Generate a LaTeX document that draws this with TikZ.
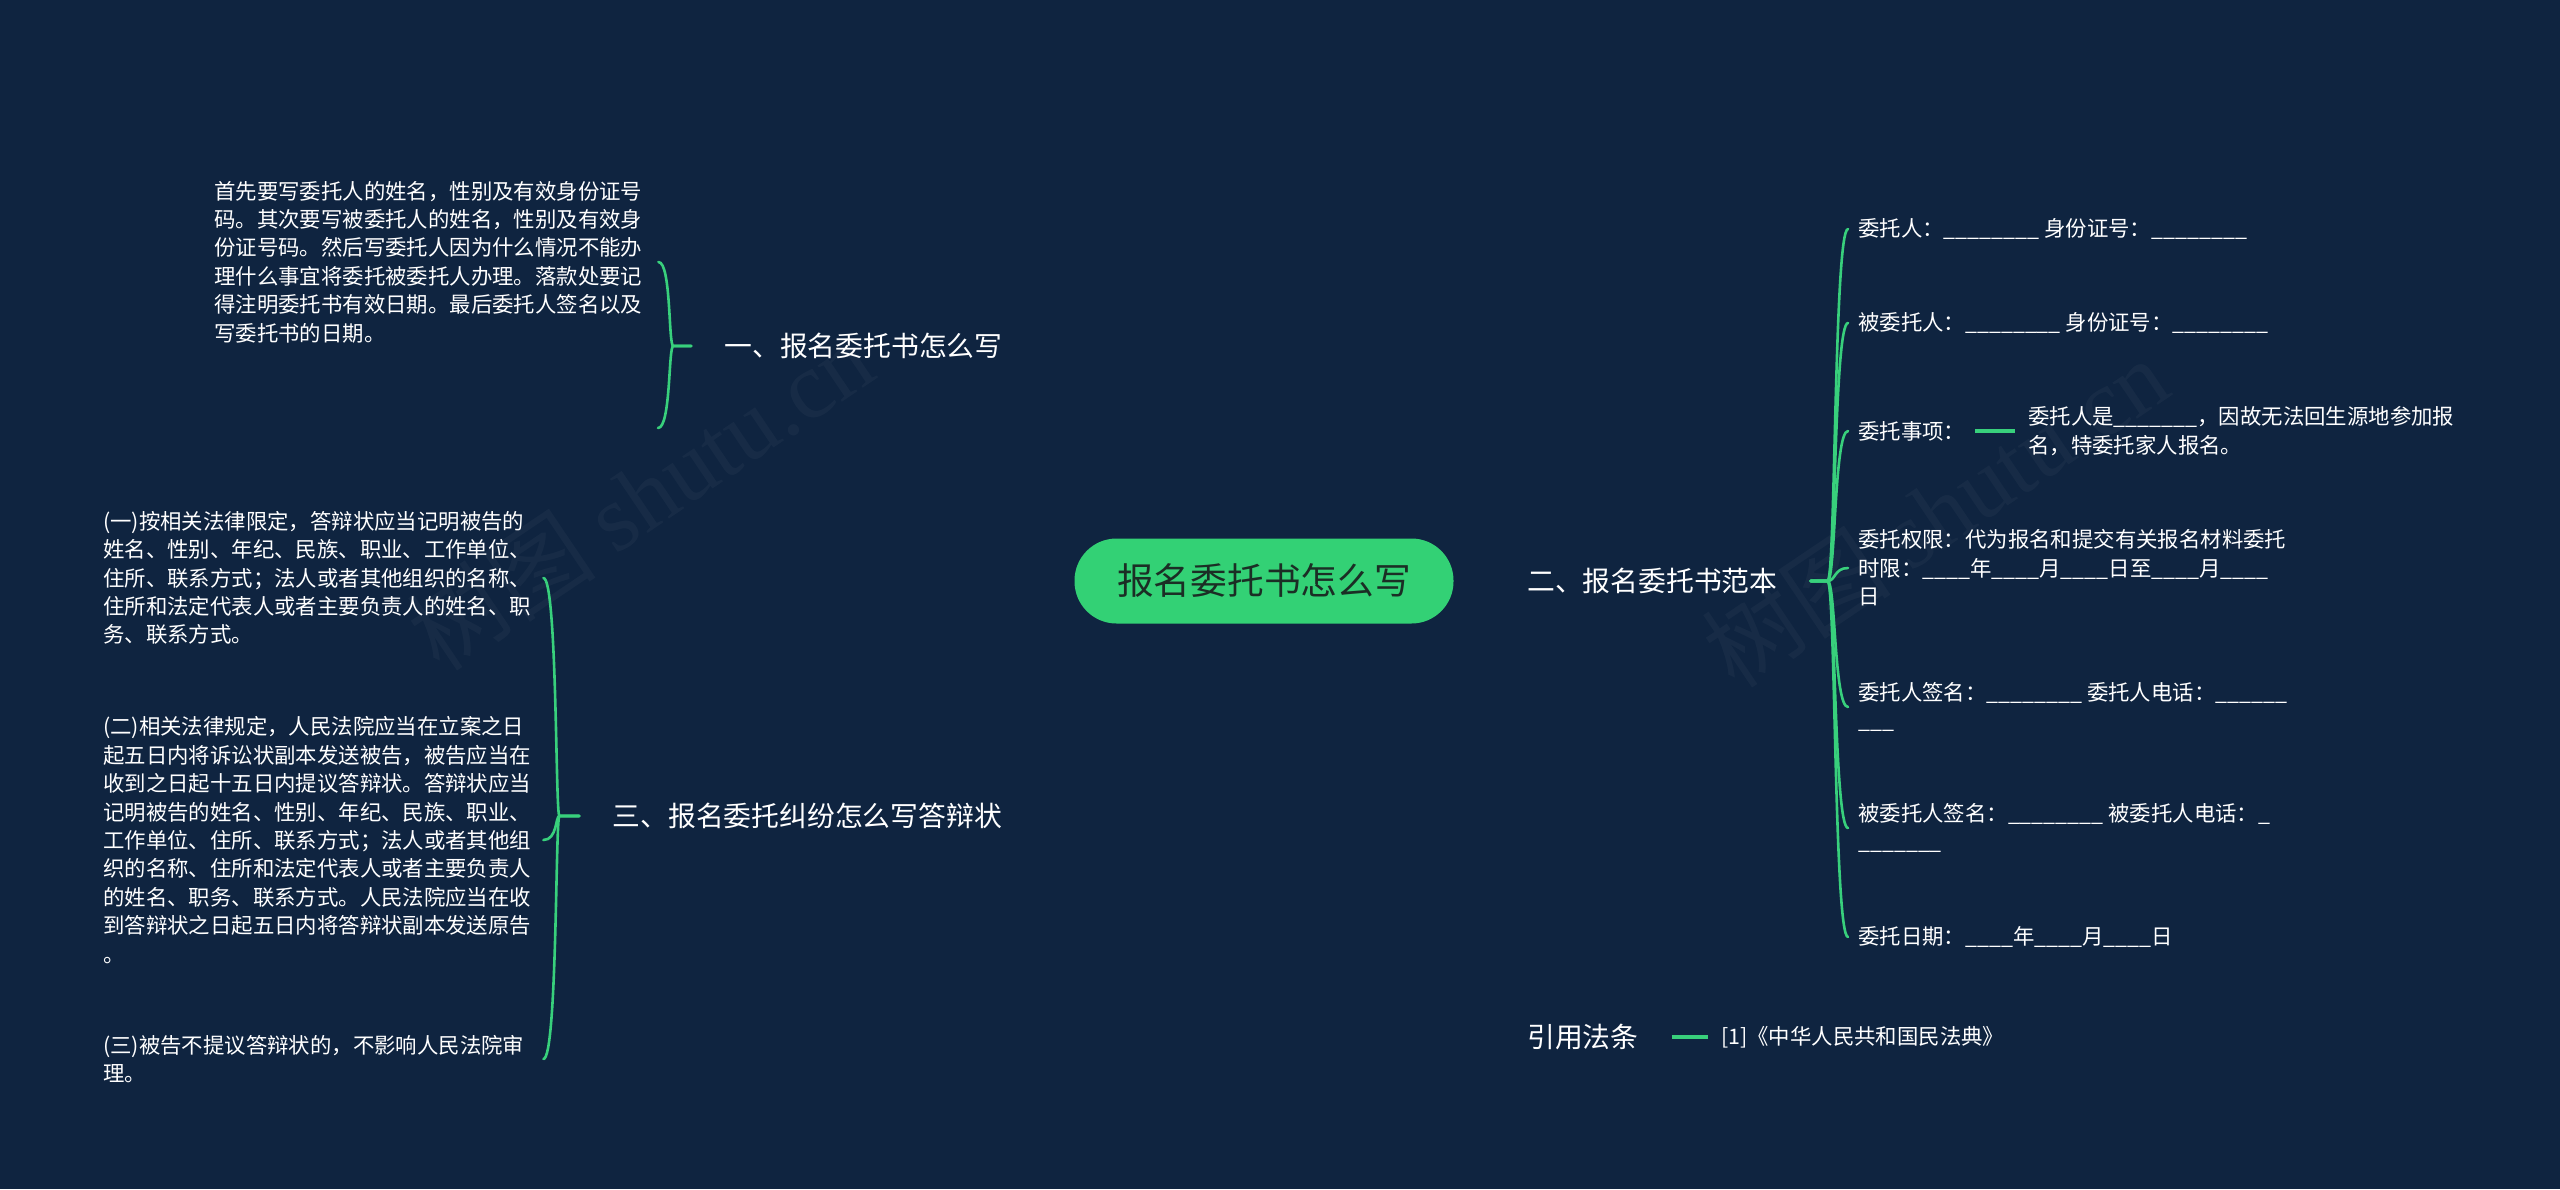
\documentclass[tikz,border=0pt]{standalone}
\usepackage{fontspec}
\setmainfont{Noto Sans CJK SC}
\newfontfamily\wmlatin{Liberation Serif}
\definecolor{bgc}{HTML}{0F2440}
\definecolor{lc}{HTML}{38D07C}
\definecolor{nodefill}{HTML}{33D175}
\definecolor{maintext}{HTML}{1B2E25}
\pgfdeclarelayer{bg}
\pgfsetlayers{bg,main}
\tikzset{
  conn/.style={draw=lc, line width=3pt, line cap=round},
  bracel/.style={draw=lc, line width=2.6pt, line cap=round},
  thickl/.style={draw=lc, line width=4.5pt},
  mainnode/.style={fill=nodefill, rounded corners=42pt, minimum width=379pt, minimum height=85pt, text=maintext, font=\fontsize{36.7}{44}\selectfont, inner sep=0pt},
  branch/.style={text=white, font=\fontsize{27.8}{34}\selectfont, inner xsep=33pt, inner ysep=3pt},
  small/.style={text=white, font=\fontsize{21.4}{28.4}\selectfont, align=left, inner xsep=10pt, inner ysep=0pt},
  leftblock/.style={small, text width=430pt},
  wm/.style={text=white, opacity=0.035, font=\fontsize{95}{100}\selectfont, inner sep=0pt}
}
\begin{document}
\begin{tikzpicture}[x=1pt,y=-1pt]
\useasboundingbox (0,0) rectangle (2560,1189);
\fill[bgc] (0,0) rectangle (2560,1189);

% watermarks
\node[wm, rotate=34] (w1) at (640,495) {树图 {\wmlatin shutu.cn}};
\node[wm, rotate=34] (w2) at (1935,512) {树图 {\wmlatin shutu.cn}};

% main node
\node[mainnode] (m) at (1264,581) {报名委托书怎么写};

% first-level branches
\node[branch] (b1) at (863.5,346) {一、报名委托书怎么写};
\node[branch, anchor=west] (b2) at (1494,581) {二、报名委托书范本};
\node[branch, anchor=east] (b3) at (1035,816) {三、报名委托纠纷怎么写答辩状};
\node[branch, anchor=west] (b4) at (1494,1037) {引用法条};
\coordinate (top) at (1494,124);

% branch 1 child
\node[leftblock, anchor=west, text width=434pt] (a1) at (204,262) {首先要写委托人的姓名，性别及有效身份证号\\码。其次要写被委托人的姓名，性别及有效身\\份证号码。然后写委托人因为什么情况不能办\\理什么事宜将委托被委托人办理。落款处要记\\得注明委托书有效日期。最后委托人签名以及\\写委托书的日期。};
\coordinate (a1p) at (658,428);

% branch 3 children
\node[leftblock, anchor=west] (d1) at (93,578) {(一)按相关法律限定，答辩状应当记明被告的\\姓名、性别、年纪、民族、职业、工作单位、\\住所、联系方式；法人或者其他组织的名称、\\住所和法定代表人或者主要负责人的姓名、职\\务、联系方式。};
\node[leftblock, anchor=west] (d2) at (93,840) {(二)相关法律规定，人民法院应当在立案之日\\起五日内将诉讼状副本发送被告，被告应当在\\收到之日起十五日内提议答辩状。答辩状应当\\记明被告的姓名、性别、年纪、民族、职业、\\工作单位、住所、联系方式；法人或者其他组\\织的名称、住所和法定代表人或者主要负责人\\的姓名、职务、联系方式。人民法院应当在收\\到答辩状之日起五日内将答辩状副本发送原告\\。};
\node[leftblock, anchor=west] (d3) at (93,1059) {(三)被告不提议答辩状的，不影响人民法院审\\理。};

% branch 2 children
\node[small, anchor=west] (c1) at (1848,229) {委托人：\_\_\_\_\_\_\_\_ 身份证号：\_\_\_\_\_\_\_\_};
\node[small, anchor=west] (c2) at (1848,323) {被委托人：\_\_\_\_\_\_\_\_ 身份证号：\_\_\_\_\_\_\_\_};
\node[small, anchor=west] (c3) at (1848,431) {委托事项：};
\node[small, anchor=west, inner xsep=13pt] (s3) at (2015,431) {委托人是\_\_\_\_\_\_\_，因故无法回生源地参加报\\名，特委托家人报名。};
\node[small, anchor=west] (c4) at (1848,568) {委托权限：代为报名和提交有关报名材料委托\\时限：\_\_\_\_年\_\_\_\_月\_\_\_\_日至\_\_\_\_月\_\_\_\_\\日};
\node[small, anchor=west] (c5) at (1848,707) {委托人签名：\_\_\_\_\_\_\_\_ 委托人电话：\_\_\_\_\_\_\\\_\_\_};
\node[small, anchor=west] (c6) at (1848,828) {被委托人签名：\_\_\_\_\_\_\_\_ 被委托人电话：\_\\\_\_\_\_\_\_\_};
\node[small, anchor=west] (c7) at (1848,937) {委托日期：\_\_\_\_年\_\_\_\_月\_\_\_\_日};

% reference child
\node[small, anchor=west, inner xsep=13pt] (r1) at (1708,1037) {[1]《中华人民共和国民法典》};

\begin{pgfonlayer}{bg}
\draw[conn] (m.center) .. controls (1264,262) and (1330,124) .. (top);
\draw[conn] (m.center) .. controls (1264,420) and (1180,346) .. (b1.east);
\draw[conn] (m.east) -- (b2.west);
\draw[conn] (m.center) .. controls (1264,742) and (1180,816) .. (b3.east);
\draw[conn] (m.center) .. controls (1264,900) and (1330,1037) .. (b4.west);
\end{pgfonlayer}

% branch 1 brace
\draw[bracel] (b1.west) -- ++(-18,0) .. controls +(-5,0) and +(13,0) .. (a1.east);
\draw[bracel] (b1.west) -- ++(-18,0) .. controls +(-5,0) and +(13,0) .. (a1p);

% branch 3 brace
\foreach \t in {d1,d2,d3}
  \draw[bracel] (b3.west) -- ++(-20,0) .. controls +(-4,0) and +(14,0) .. (\t.east);

% branch 2 brace
\foreach \t in {c1,c2,c3,c4,c5,c6,c7}
  \draw[bracel] (b2.east) -- ++(17,0) .. controls +(8,0) and +(-14,0) .. (\t.west);

\draw[thickl] (c3.east) -- (s3.west);
\draw[thickl] (b4.east) -- (r1.west);
\end{tikzpicture}
\end{document}
